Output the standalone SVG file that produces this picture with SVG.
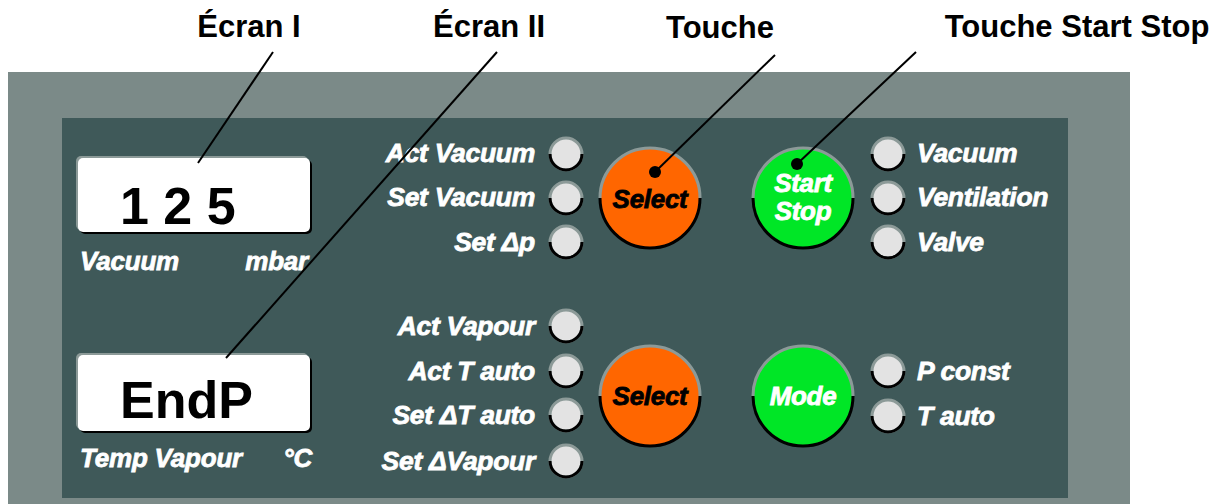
<svg xmlns="http://www.w3.org/2000/svg" xmlns:xlink="http://www.w3.org/1999/xlink" width="1218" height="504" viewBox="0 0 1218 504">
<style>
.title{font-family:"Liberation Sans",Arial,sans-serif;font-weight:bold;font-size:31px;fill:#000;text-anchor:middle}
.lbl{font-family:"Liberation Sans",Arial,sans-serif;font-weight:bold;font-style:italic;font-size:26.5px;fill:#fff;stroke:#fff;stroke-width:0.8;letter-spacing:-0.3px}
.lblL{text-anchor:end}
.sm{font-family:"Liberation Sans",Arial,sans-serif;font-weight:bold;font-style:italic;font-size:26px;fill:#fff;stroke:#fff;stroke-width:0.8;letter-spacing:-0.2px}
.smR{text-anchor:end}
.disp{font-family:"Liberation Sans",Arial,sans-serif;font-weight:bold;font-size:52px;fill:#000}
.btn{font-family:"Liberation Sans",Arial,sans-serif;font-weight:bold;font-style:italic;font-size:26px;text-anchor:middle;stroke-width:0.8;letter-spacing:-0.3px}
.lead{stroke:#000;stroke-width:2;fill:none}
</style>
<defs>
<g id="led">
<circle r="16" fill="#e3e3e3" stroke="#8c9a98" stroke-width="3"/>
<path d="M -16 0 A 16 16 0 0 0 16 0" fill="none" stroke="#000" stroke-width="3"/>
</g>
<g id="btnring">
<path d="M -50 0 A 50 50 0 0 1 50 0" fill="none" stroke="#8c9a98" stroke-width="3"/>
<path d="M -50 0 A 50 50 0 0 0 50 0" fill="none" stroke="#000" stroke-width="3"/>
</g>
</defs>
<rect x="0" y="0" width="1218" height="504" fill="#fff"/>
<g id="panel">
<rect x="8" y="72" width="1122" height="432" fill="#7b8a88"/>
<rect x="62" y="118" width="1006" height="380" fill="#3f5959"/>
</g>
<g id="display1">
<rect x="76" y="156" width="232" height="74" rx="5" fill="#8c9a98"/>
<rect x="80" y="160" width="232" height="74" rx="5" fill="#000"/>
<rect x="78" y="158" width="232" height="74" rx="5" fill="#fff"/>
<text class="disp" x="120" y="224" xml:space="preserve">1 2 5</text>
<text class="sm" x="80" y="270">Vacuum</text>
<text class="sm smR" x="308" y="270">mbar</text>
</g>
<g id="display2">
<rect x="76" y="353" width="232" height="76" rx="5" fill="#8c9a98"/>
<rect x="80" y="357" width="232" height="76" rx="5" fill="#000"/>
<rect x="78" y="355" width="232" height="76" rx="5" fill="#fff"/>
<text class="disp" x="120" y="418">EndP</text>
<text class="sm" x="80" y="467">Temp Vapour</text>
<text class="sm smR" x="312" y="467">°C</text>
</g>
<g id="leds-left-top">
<use xlink:href="#led" x="566" y="154"/>
<use xlink:href="#led" x="566" y="198"/>
<use xlink:href="#led" x="566" y="242"/>
<text class="lbl lblL" x="535" y="162">Act Vacuum</text>
<text class="lbl lblL" x="535" y="206">Set Vacuum</text>
<text class="lbl lblL" x="535" y="251">Set Δp</text>
</g>
<g id="leds-left-bottom">
<use xlink:href="#led" x="566" y="326"/>
<use xlink:href="#led" x="566" y="371"/>
<use xlink:href="#led" x="566" y="415"/>
<use xlink:href="#led" x="566" y="461"/>
<text class="lbl lblL" x="535" y="335">Act Vapour</text>
<text class="lbl lblL" x="535" y="380">Act T auto</text>
<text class="lbl lblL" x="535" y="424">Set ΔT auto</text>
<text class="lbl lblL" x="535" y="470">Set ΔVapour</text>
</g>
<g id="leds-right-top">
<use xlink:href="#led" x="888" y="154"/>
<use xlink:href="#led" x="888" y="198"/>
<use xlink:href="#led" x="888" y="242"/>
<text class="lbl" x="917" y="162">Vacuum</text>
<text class="lbl" x="917" y="206">Ventilation</text>
<text class="lbl" x="917" y="251">Valve</text>
</g>
<g id="leds-right-bottom">
<use xlink:href="#led" x="888" y="371"/>
<use xlink:href="#led" x="888" y="416"/>
<text class="lbl" x="917" y="380">P const</text>
<text class="lbl" x="917" y="425">T auto</text>
</g>
<g id="select1">
<circle cx="650" cy="198" r="50" fill="#ff6600"/>
<use xlink:href="#btnring" x="650" y="198"/>
<text class="btn" x="650" y="208" fill="#000" stroke="#000">Select</text>
</g>
<g id="startstop">
<circle cx="803" cy="198" r="50" fill="#00e626"/>
<use xlink:href="#btnring" x="803" y="198"/>
<text class="btn" x="803" y="192" fill="#fff" stroke="#fff">Start</text>
<text class="btn" x="803" y="220" fill="#fff" stroke="#fff">Stop</text>
</g>
<g id="select2">
<circle cx="650" cy="396" r="50" fill="#ff6600"/>
<use xlink:href="#btnring" x="650" y="396"/>
<text class="btn" x="650" y="405" fill="#000" stroke="#000">Select</text>
</g>
<g id="mode">
<circle cx="803" cy="396" r="50" fill="#00e626"/>
<use xlink:href="#btnring" x="803" y="396"/>
<text class="btn" x="803" y="405" fill="#fff" stroke="#fff">Mode</text>
</g>
<g id="titles">
<text class="title" x="249" y="37">Écran I</text>
<text class="title" x="489" y="37">Écran II</text>
<text class="title" x="720" y="38">Touche</text>
<text class="title" x="1077" y="37">Touche Start Stop</text>
</g>
<g id="connectors">
<line class="lead" x1="273" y1="52" x2="198" y2="163"/>
<line class="lead" x1="497" y1="52" x2="226" y2="358"/>
<line class="lead" x1="775" y1="55" x2="655" y2="172"/>
<circle cx="655" cy="172" r="6" fill="#000"/>
<line class="lead" x1="916" y1="52" x2="797" y2="164"/>
<circle cx="797" cy="164" r="6" fill="#000"/>
</g>
</svg>
